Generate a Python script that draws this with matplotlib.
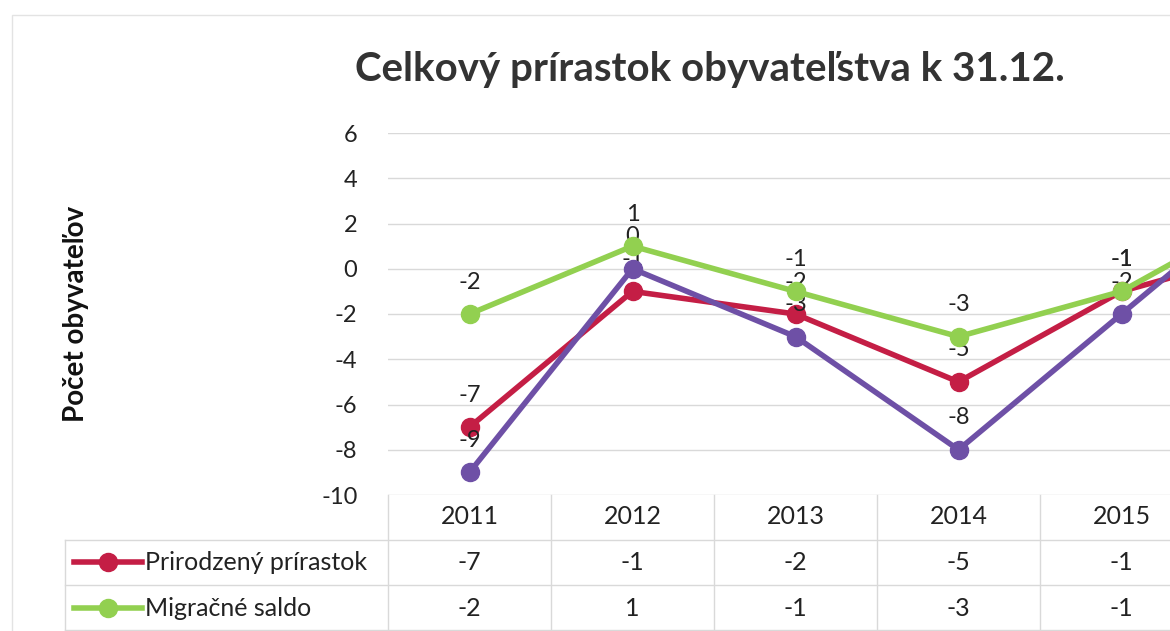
import matplotlib.pyplot as plt
from matplotlib.lines import Line2D
from matplotlib.patches import Rectangle
import matplotlib.transforms as mtransforms

plt.rcParams['font.family'] = ['Lato', 'DejaVu Sans']

# data (2016 is cut off on the right edge of the scan)
years = ['2011', '2012', '2013', '2014', '2015', '2016']
prirodzeny = [-7, -1, -2, -5, -1, 1]
migracne = [-2, 1, -1, -3, -1, 3]
celkovy = [-9, 0, -3, -8, -2, 4]

names = ['Prirodzený prírastok', 'Migračné saldo', 'Celkový prírastok']
colors = ['#C41E45', '#92D050', '#6E50A6']
series = [prirodzeny, migracne, celkovy]

W, H = 1170, 631
fig = plt.figure(figsize=(W / 100, H / 100), dpi=100)

def fx(px):
    return px / W

def fy(py):
    return 1 - py / H

# plot area, wider than the figure so the last year falls off the edge
step = 163
left = 388
ax = fig.add_axes([fx(left), fy(495), len(years) * step / W, (495 - 133) / H])
x = list(range(len(years)))
shown = x[:-1]   # years whose texts are inside the picture

order = [0, 2, 1]
for i in order:
    ax.plot(x, series[i], color=colors[i], lw=4, marker='o', ms=13,
            solid_joinstyle='round', zorder=3 + order.index(i), clip_on=False)
    for xi in shown:
        v = series[i][xi]
        ax.annotate(str(v), (xi, v), xytext=(0, 23), textcoords='offset points',
                    ha='center', va='center', fontsize=17, color='#222222')

ax.set_xlim(-0.5, len(years) - 0.5)
ax.set_ylim(-10, 6)
ax.set_yticks(range(-10, 7, 2))
ax.set_yticklabels([str(t) for t in range(-10, 7, 2)], fontsize=17, color='#222222')
ax.set_xticks([])
ax.tick_params(axis='y', length=0, pad=22)
for s in ax.spines.values():
    s.set_visible(False)
ax.grid(axis='y', color='#D9D9D9', lw=1)
ax.set_axisbelow(True)

fig.text(fx(710), fy(70), 'Celkový prírastok obyvateľstva k 31.12.',
         ha='center', va='center', fontsize=29, fontweight='bold', color='#333333')
fig.text(fx(76), fy(314), 'Počet obyvateľov', rotation=90, ha='center', va='center',
         fontsize=20, fontweight='bold', color='#111111')

# data table under the plot
tr = mtransforms.blended_transform_factory(ax.transData, fig.transFigure)
row_y = [517, 562, 608, 654]
line_y = [540, 585, 630, 676]
gc = '#D9D9D9'
for xi in shown:
    ax.text(xi, fy(row_y[0]), years[xi], transform=tr, ha='center', va='center',
            fontsize=18, color='#222222', clip_on=False)
    for r, s in enumerate(series[:2]):
        ax.text(xi, fy(row_y[r + 1]), str(s[xi]), transform=tr, ha='center',
                va='center', fontsize=18, color='#222222', clip_on=False)
for b in [xi - 0.5 for xi in x] + [len(years) - 0.5]:
    fig.add_artist(Line2D([ax.transData.transform((b, 0))[0] / W] * 2, [fy(495), fy(700)],
                          color=gc, lw=1))
for ly in line_y:
    fig.add_artist(Line2D([fx(65), 1.2], [fy(ly), fy(ly)], color=gc, lw=1))
fig.add_artist(Line2D([fx(65), fx(65)], [fy(540), fy(700)], color=gc, lw=1))

# legend keys in the table rows (third row is below the scan)
for r in range(2):
    yy = fy(row_y[r + 1])
    fig.add_artist(Line2D([fx(74), fx(142)], [yy, yy], color=colors[r], lw=4))
    fig.add_artist(Line2D([fx(108)], [yy], color=colors[r], marker='o', ms=13))
    fig.text(fx(145), yy, names[r], ha='left', va='center', fontsize=18, color='#222222')

# faint outer border of the chart object
fig.add_artist(Rectangle((fx(12), fy(700)), 1.2, fy(15) - fy(700), fill=False,
                         edgecolor='#E3E3E3', lw=1, transform=fig.transFigure))

fig.savefig('out.png', dpi=100)
